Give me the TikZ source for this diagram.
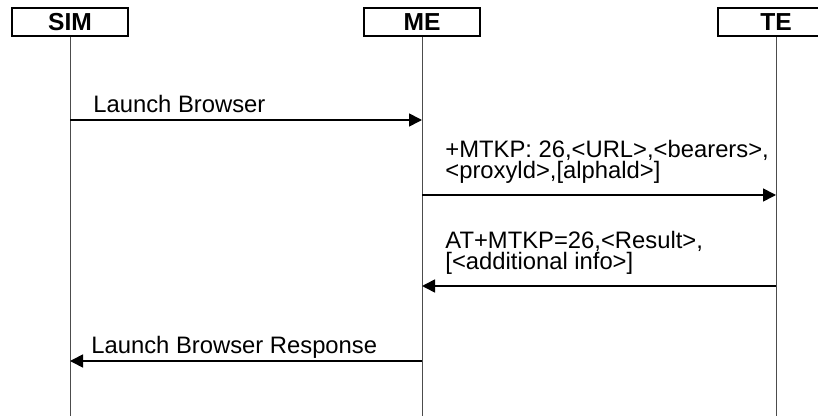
\documentclass[tikz,border=0pt]{standalone}
\usepackage{fontspec}
\setsansfont{Liberation Sans}
\usetikzlibrary{arrows.meta}

\begin{document}
\begin{tikzpicture}[x=0.5pt, y=-0.5pt,
    main node/.style={rectangle, draw, line width=0.8pt, minimum width=58pt, minimum height=14pt, font=\sffamily\bfseries\fontsize{12.3}{12}\selectfont},
    life line/.style={draw=black!70, line width=0.5pt},
    msg/.style={-{Triangle[length=6.5pt,width=6.5pt]}, line width=0.8pt}]
  \tikzstyle{every node}=[inner sep=0pt, font=\sffamily\fontsize{11.9}{10.8}\selectfont]
  \useasboundingbox (0,0) rectangle (818,416);

  % parties
  \node[main node] (sim) at (70,22) {SIM};
  \node[main node] (me) at (422,22) {ME};
  \node[main node] (te) at (776,22) {TE};

  % life lines
  \coordinate (sim end) at (sim |- 0,416);
  \coordinate (me end) at (me |- 0,416);
  \coordinate (te end) at (te |- 0,416);
  \draw[life line] (sim) -- (sim end);
  \draw[life line] (me) -- (me end);
  \draw[life line] (te) -- (te end);

  % message points
  \coordinate (sim1) at (sim |- 0,120);
  \coordinate (me1) at (me |- 0,120);
  \coordinate (me2) at (me |- 0,195);
  \coordinate (te2) at (te |- 0,195);
  \coordinate (te3) at (te |- 0,286);
  \coordinate (me3) at (me |- 0,286);
  \coordinate (me4) at (me |- 0,361);
  \coordinate (sim4) at (sim |- 0,361);

  \path[msg]
    (sim1) edge (me1)
    (me2) edge (te2)
    (te3) edge (me3)
    (me4) edge (sim4);

  % labels
  \node[anchor=base west] (launch) at (93,113) {Launch Browser};
  \node[anchor=base west, align=left] (mtkp) at (445,179) {+MTKP: 26,<URL>,<bearers>,\\<proxyld>,[alphald>]};
  \node[anchor=base west, align=left] (result) at (445,270) {AT+MTKP=26,<Result>,\\{[}<additional info>{]}};
  \node[anchor=base west] (response) at (91,353) {Launch Browser Response};
\end{tikzpicture}
\end{document}
